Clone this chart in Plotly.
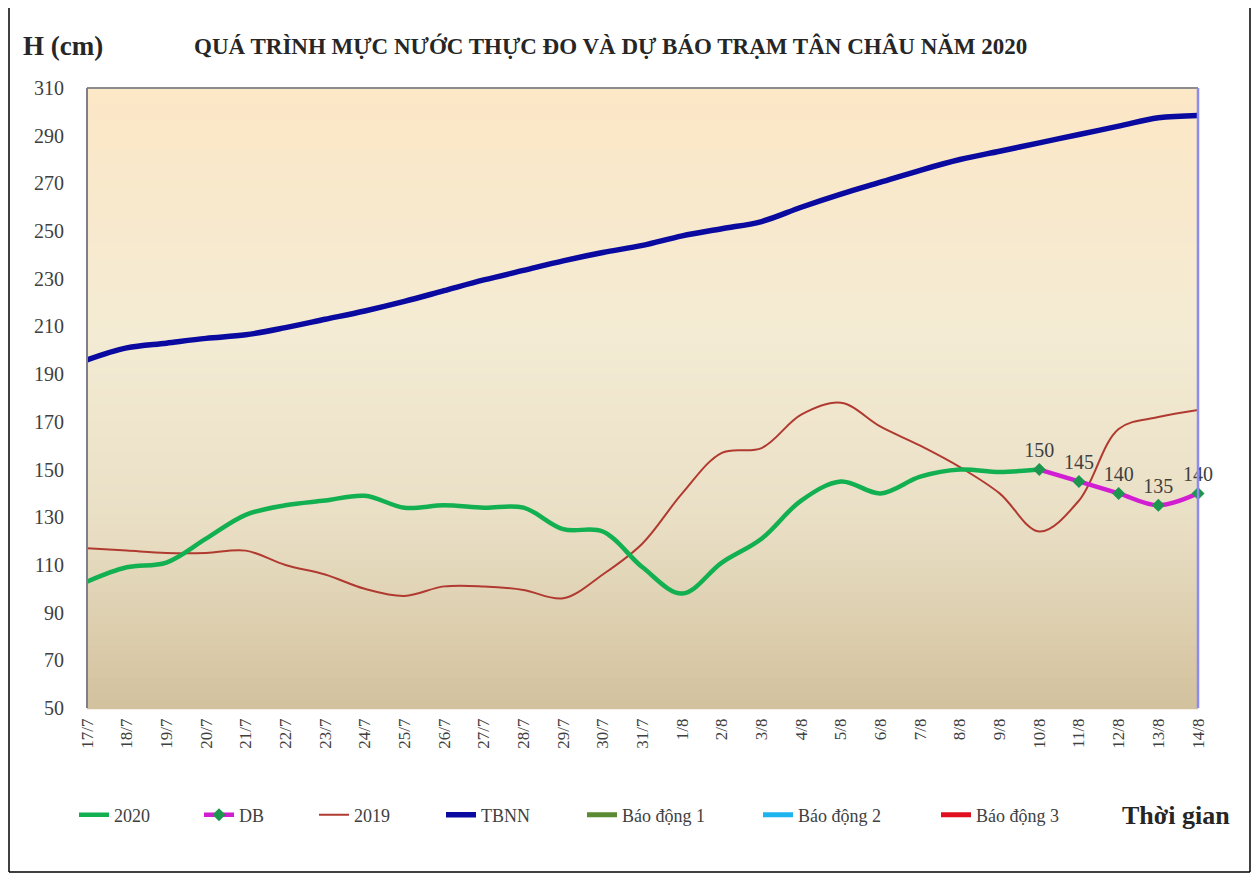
import plotly.graph_objects as go

dates = ["17/7","18/7","19/7","20/7","21/7","22/7","23/7","24/7","25/7","26/7",
         "27/7","28/7","29/7","30/7","31/7","1/8","2/8","3/8","4/8","5/8",
         "6/8","7/8","8/8","9/8","10/8","11/8","12/8","13/8","14/8"]

h2020 = [103,109,111,121,131,135,137,139,134,135,134,134,125,124,109,98,111,121,137,145,140,147,150,149,150]
db_dates = ["10/8","11/8","12/8","13/8","14/8"]
db_vals = [150,145,140,135,140]
h2019 = [117,116,115,115,116,110,106,100,97,101,101,99.5,96,106,119,140,157,159,173,178,168,160,151,140,124,137,167,172,175]
tbnn = [196,201,203,205,206.5,209.5,213,216.5,220.5,225,229.5,233.5,237.5,241,244,248,251,254,260,265.5,270.5,275.5,280,283.5,287,290.5,294,297.5,298.5]
bd1 = [350]*len(dates)
bd2 = [400]*len(dates)
bd3 = [450]*len(dates)

FONT = "Liberation Serif"
OFF = 8  # page body margin
W, H = 1259 - OFF, 875 - OFF
L, R, T, B = 87 - OFF, 1198 - OFF, 88 - OFF, 708 - OFF

def px2x(px):  # screen px -> paper
    return (px - OFF - L) / (R - L)

def py2y(py):
    return (B - (py - OFF)) / (B - T)

fig = go.Figure()

fig.add_trace(go.Scatter(x=dates, y=bd1, name="Báo động 1", mode="lines",
                         line=dict(color="#5A8A32", width=5), legend="legend5"))
fig.add_trace(go.Scatter(x=dates, y=bd2, name="Báo động 2", mode="lines",
                         line=dict(color="#1EB4F0", width=5), legend="legend6"))
fig.add_trace(go.Scatter(x=dates, y=bd3, name="Báo động 3", mode="lines",
                         line=dict(color="#E0101E", width=5), legend="legend7"))
fig.add_trace(go.Scatter(x=dates, y=tbnn, name="TBNN", mode="lines",
                         line=dict(color="#0A0AA0", width=5.5, shape="spline"), legend="legend4"))
fig.add_trace(go.Scatter(x=dates, y=h2019, name="2019", mode="lines",
                         line=dict(color="#B03A30", width=2, shape="spline"), legend="legend3"))
fig.add_trace(go.Scatter(x=dates[:len(h2020)], y=h2020, name="2020", mode="lines",
                         line=dict(color="#12B050", width=4.5, shape="spline"), legend="legend"))
fig.add_trace(go.Scatter(x=db_dates, y=db_vals, name="DB", mode="lines+markers+text",
                         line=dict(color="#D21ED2", width=4.5, shape="spline"),
                         marker=dict(symbol="diamond", size=10, color="#1E9650"),
                         text=[str(v) for v in db_vals], textposition="top center",
                         textfont=dict(family=FONT, size=20, color="#404040"),
                         cliponaxis=False, legend="legend2"))

# gradient background
stops = [(0.0, (252, 231, 198)), (0.4, (244, 235, 212)), (0.7, (233, 223, 197)), (1.0, (211, 193, 157))]
def col(t):
    for (t0, c0), (t1, c1) in zip(stops[:-1], stops[1:]):
        if t0 <= t <= t1:
            f = (t - t0) / (t1 - t0)
            return "rgb(%d,%d,%d)" % tuple(round(a + (b - a) * f) for a, b in zip(c0, c1))
    return "rgb(%d,%d,%d)" % stops[-1][1]

shapes = []
N = 80
for i in range(N):
    t = (i + 0.5) / N  # from top
    shapes.append(dict(type="rect", xref="x domain", yref="y domain",
                       x0=0, x1=1, y0=1 - (i + 1) / N - 0.002, y1=1 - i / N,
                       fillcolor=col(t), line=dict(width=0), layer="below"))
# plot borders
shapes.append(dict(type="line", xref="x domain", yref="y domain", x0=0, x1=1, y0=1, y1=1,
                   line=dict(color="#8C8C8C", width=2), layer="above"))
shapes.append(dict(type="line", xref="x domain", yref="y domain", x0=0, x1=0, y0=0, y1=1,
                   line=dict(color="#7F7F8C", width=2), layer="above"))
shapes.append(dict(type="line", xref="x domain", yref="y domain", x0=1, x1=1, y0=0, y1=1,
                   line=dict(color="#8C8CF0", width=2.5), layer="above"))
# outer frame (left, right, bottom)
fx0, fx1, fyb, fyt = px2x(9), px2x(1250), py2y(872), py2y(OFF)
for x0, y0, x1, y1 in [(fx0, fyb, fx0, fyt), (fx1, fyb, fx1, fyt), (fx0, fyb, fx1, fyb)]:
    shapes.append(dict(type="line", xref="paper", yref="paper", x0=x0, y0=y0, x1=x1, y1=y1,
                       line=dict(color="#000000", width=1.5), layer="above"))

annotations = [
    dict(text="<b>H (cm)</b>", xref="paper", yref="paper", x=px2x(21), y=py2y(46),
         xanchor="left", yanchor="middle", showarrow=False,
         font=dict(family=FONT, size=27, color="#262626")),
    dict(text="<b>QUÁ TRÌNH MỰC NƯỚC THỰC ĐO VÀ DỰ BÁO TRẠM TÂN CHÂU NĂM 2020</b>",
         xref="paper", yref="paper", x=px2x(610), y=py2y(46),
         xanchor="center", yanchor="middle", showarrow=False,
         font=dict(family=FONT, size=23, color="#262626")),
    dict(text="<b>Thời gian</b>", xref="paper", yref="paper", x=px2x(1176), y=py2y(815),
         xanchor="center", yanchor="middle", showarrow=False,
         font=dict(family=FONT, size=26, color="#262626")),
]

leg_starts = [65, 190, 305, 432, 573, 749, 927]
legend_layout = {}
for i, ls in enumerate(leg_starts):
    key = "legend" if i == 0 else "legend%d" % (i + 1)
    legend_layout[key] = dict(x=px2x(ls + 15 - 6), y=py2y(815), xanchor="left", yanchor="middle",
                              orientation="h", bgcolor="rgba(0,0,0,0)",
                              font=dict(family=FONT, size=18, color="#404040"),
                              itemwidth=30)

fig.update_layout(
    width=W, height=H,
    margin=dict(l=L, r=W - R, t=T, b=H - B, autoexpand=False),
    paper_bgcolor="white", plot_bgcolor="#F3EAD3",
    showlegend=True,
    shapes=shapes, annotations=annotations,
    font=dict(family=FONT, color="#404040"),
    **legend_layout,
)
fig.update_xaxes(type="category", categoryorder="array", categoryarray=dates,
                 range=[0, len(dates) - 1], showgrid=False, zeroline=False,
                 showline=False, tickangle=-90, ticks="",
                 tickfont=dict(family=FONT, size=17, color="#404040"),
                 ticklabelstandoff=6)
fig.update_yaxes(range=[50, 310], tickvals=list(range(50, 311, 20)), showgrid=False,
                 zeroline=False, showline=False, ticks="",
                 tickfont=dict(family=FONT, size=20, color="#404040"),
                 ticklabelstandoff=22)

fig.write_html("out.html")
